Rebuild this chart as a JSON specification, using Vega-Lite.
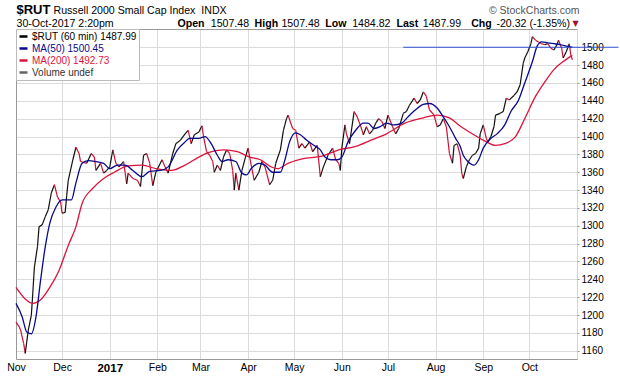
{
  "$schema": "https://vega.github.io/schema/vega-lite/v6.json",
  "width": 561,
  "height": 330,
  "autosize": "none",
  "padding": {"left": 16, "top": 29, "right": 43, "bottom": 17},
  "background": "#ffffff",
  "config": {"view": {"stroke": null}, "font": "Liberation Sans"},
  "datasets": {
    "price": [
      {"date": "2016-11-01", "close": 1192}, {"date": "2016-11-03", "close": 1187}, {"date": "2016-11-04", "close": 1183},
      {"date": "2016-11-06", "close": 1168}, {"date": "2016-11-07", "close": 1157}, {"date": "2016-11-09", "close": 1183},
      {"date": "2016-11-11", "close": 1200}, {"date": "2016-11-13", "close": 1254}, {"date": "2016-11-15", "close": 1277},
      {"date": "2016-11-16", "close": 1299}, {"date": "2016-11-18", "close": 1301}, {"date": "2016-11-20", "close": 1310},
      {"date": "2016-11-22", "close": 1318}, {"date": "2016-11-24", "close": 1337}, {"date": "2016-11-26", "close": 1346},
      {"date": "2016-11-28", "close": 1332}, {"date": "2016-11-30", "close": 1327}, {"date": "2016-12-01", "close": 1314},
      {"date": "2016-12-03", "close": 1315}, {"date": "2016-12-04", "close": 1334}, {"date": "2016-12-05", "close": 1351},
      {"date": "2016-12-08", "close": 1374}, {"date": "2016-12-10", "close": 1388}, {"date": "2016-12-12", "close": 1381},
      {"date": "2016-12-13", "close": 1372}, {"date": "2016-12-17", "close": 1370}, {"date": "2016-12-20", "close": 1381},
      {"date": "2016-12-22", "close": 1377}, {"date": "2016-12-23", "close": 1362}, {"date": "2016-12-26", "close": 1370},
      {"date": "2016-12-28", "close": 1359}, {"date": "2016-12-30", "close": 1362}, {"date": "2017-01-01", "close": 1366},
      {"date": "2017-01-03", "close": 1385}, {"date": "2017-01-05", "close": 1370}, {"date": "2017-01-07", "close": 1366},
      {"date": "2017-01-10", "close": 1372}, {"date": "2017-01-12", "close": 1347}, {"date": "2017-01-13", "close": 1359},
      {"date": "2017-01-16", "close": 1353}, {"date": "2017-01-19", "close": 1351}, {"date": "2017-01-21", "close": 1344},
      {"date": "2017-01-23", "close": 1379}, {"date": "2017-01-25", "close": 1381}, {"date": "2017-01-27", "close": 1370},
      {"date": "2017-01-29", "close": 1345}, {"date": "2017-01-31", "close": 1360}, {"date": "2017-02-04", "close": 1374},
      {"date": "2017-02-06", "close": 1366}, {"date": "2017-02-08", "close": 1359}, {"date": "2017-02-11", "close": 1381},
      {"date": "2017-02-13", "close": 1392}, {"date": "2017-02-16", "close": 1396}, {"date": "2017-02-19", "close": 1403},
      {"date": "2017-02-21", "close": 1407}, {"date": "2017-02-23", "close": 1392}, {"date": "2017-02-25", "close": 1402},
      {"date": "2017-02-28", "close": 1405}, {"date": "2017-03-02", "close": 1412}, {"date": "2017-03-03", "close": 1400},
      {"date": "2017-03-05", "close": 1383}, {"date": "2017-03-07", "close": 1379}, {"date": "2017-03-09", "close": 1372},
      {"date": "2017-03-10", "close": 1360}, {"date": "2017-03-12", "close": 1368}, {"date": "2017-03-14", "close": 1362},
      {"date": "2017-03-16", "close": 1377}, {"date": "2017-03-18", "close": 1385}, {"date": "2017-03-20", "close": 1381},
      {"date": "2017-03-22", "close": 1362}, {"date": "2017-03-23", "close": 1340}, {"date": "2017-03-24", "close": 1359},
      {"date": "2017-03-26", "close": 1340}, {"date": "2017-03-28", "close": 1362}, {"date": "2017-03-30", "close": 1375},
      {"date": "2017-04-01", "close": 1387}, {"date": "2017-04-03", "close": 1368}, {"date": "2017-04-05", "close": 1351},
      {"date": "2017-04-08", "close": 1360}, {"date": "2017-04-10", "close": 1372}, {"date": "2017-04-12", "close": 1366},
      {"date": "2017-04-15", "close": 1346}, {"date": "2017-04-17", "close": 1351}, {"date": "2017-04-19", "close": 1370},
      {"date": "2017-04-22", "close": 1385}, {"date": "2017-04-24", "close": 1407}, {"date": "2017-04-26", "close": 1420},
      {"date": "2017-04-27", "close": 1424}, {"date": "2017-04-30", "close": 1409}, {"date": "2017-05-02", "close": 1407},
      {"date": "2017-05-04", "close": 1387}, {"date": "2017-05-06", "close": 1392}, {"date": "2017-05-08", "close": 1387},
      {"date": "2017-05-11", "close": 1394}, {"date": "2017-05-13", "close": 1383}, {"date": "2017-05-16", "close": 1390},
      {"date": "2017-05-18", "close": 1355}, {"date": "2017-05-20", "close": 1366}, {"date": "2017-05-23", "close": 1379},
      {"date": "2017-05-26", "close": 1387}, {"date": "2017-05-28", "close": 1374}, {"date": "2017-05-30", "close": 1370},
      {"date": "2017-05-31", "close": 1362}, {"date": "2017-06-01", "close": 1387}, {"date": "2017-06-03", "close": 1413},
      {"date": "2017-06-04", "close": 1403}, {"date": "2017-06-06", "close": 1392}, {"date": "2017-06-09", "close": 1428},
      {"date": "2017-06-11", "close": 1422}, {"date": "2017-06-13", "close": 1413}, {"date": "2017-06-15", "close": 1402},
      {"date": "2017-06-17", "close": 1411}, {"date": "2017-06-19", "close": 1403}, {"date": "2017-06-21", "close": 1407},
      {"date": "2017-06-23", "close": 1415}, {"date": "2017-06-25", "close": 1420}, {"date": "2017-06-27", "close": 1417},
      {"date": "2017-06-29", "close": 1409}, {"date": "2017-07-01", "close": 1424}, {"date": "2017-07-04", "close": 1411},
      {"date": "2017-07-06", "close": 1403}, {"date": "2017-07-08", "close": 1409}, {"date": "2017-07-11", "close": 1426},
      {"date": "2017-07-13", "close": 1428}, {"date": "2017-07-15", "close": 1435}, {"date": "2017-07-18", "close": 1443},
      {"date": "2017-07-20", "close": 1437}, {"date": "2017-07-22", "close": 1441}, {"date": "2017-07-24", "close": 1450},
      {"date": "2017-07-26", "close": 1445}, {"date": "2017-07-28", "close": 1430}, {"date": "2017-07-31", "close": 1424},
      {"date": "2017-08-02", "close": 1411}, {"date": "2017-08-04", "close": 1413}, {"date": "2017-08-06", "close": 1420},
      {"date": "2017-08-08", "close": 1411}, {"date": "2017-08-09", "close": 1396}, {"date": "2017-08-10", "close": 1381},
      {"date": "2017-08-12", "close": 1370}, {"date": "2017-08-13", "close": 1390}, {"date": "2017-08-15", "close": 1392},
      {"date": "2017-08-17", "close": 1379}, {"date": "2017-08-18", "close": 1359}, {"date": "2017-08-19", "close": 1353},
      {"date": "2017-08-21", "close": 1366}, {"date": "2017-08-23", "close": 1374}, {"date": "2017-08-25", "close": 1379},
      {"date": "2017-08-27", "close": 1381}, {"date": "2017-08-29", "close": 1387}, {"date": "2017-08-30", "close": 1403},
      {"date": "2017-09-01", "close": 1413}, {"date": "2017-09-03", "close": 1398}, {"date": "2017-09-04", "close": 1394},
      {"date": "2017-09-06", "close": 1400}, {"date": "2017-09-08", "close": 1411}, {"date": "2017-09-09", "close": 1424},
      {"date": "2017-09-12", "close": 1426}, {"date": "2017-09-14", "close": 1428}, {"date": "2017-09-16", "close": 1443},
      {"date": "2017-09-18", "close": 1441}, {"date": "2017-09-21", "close": 1446}, {"date": "2017-09-23", "close": 1450},
      {"date": "2017-09-25", "close": 1458}, {"date": "2017-09-27", "close": 1482}, {"date": "2017-09-28", "close": 1488},
      {"date": "2017-09-30", "close": 1495}, {"date": "2017-10-02", "close": 1504}, {"date": "2017-10-03", "close": 1512},
      {"date": "2017-10-05", "close": 1508}, {"date": "2017-10-07", "close": 1506}, {"date": "2017-10-09", "close": 1504},
      {"date": "2017-10-11", "close": 1503}, {"date": "2017-10-13", "close": 1504}, {"date": "2017-10-15", "close": 1499},
      {"date": "2017-10-17", "close": 1497}, {"date": "2017-10-19", "close": 1503}, {"date": "2017-10-20", "close": 1508},
      {"date": "2017-10-22", "close": 1499}, {"date": "2017-10-23", "close": 1488}, {"date": "2017-10-25", "close": 1495},
      {"date": "2017-10-27", "close": 1504}, {"date": "2017-10-28", "close": 1491}, {"date": "2017-10-29", "close": 1486}
    ],
    "ma": [
      {"date": "2016-11-01", "series": "MA(200) 1492.73", "value": 1231}, {"date": "2016-11-07", "series": "MA(200) 1492.73", "value": 1218},
      {"date": "2016-11-12", "series": "MA(200) 1492.73", "value": 1213}, {"date": "2016-11-17", "series": "MA(200) 1492.73", "value": 1217},
      {"date": "2016-11-23", "series": "MA(200) 1492.73", "value": 1231}, {"date": "2016-11-29", "series": "MA(200) 1492.73", "value": 1250},
      {"date": "2016-12-05", "series": "MA(200) 1492.73", "value": 1278}, {"date": "2016-12-10", "series": "MA(200) 1492.73", "value": 1299},
      {"date": "2016-12-14", "series": "MA(200) 1492.73", "value": 1325}, {"date": "2016-12-21", "series": "MA(200) 1492.73", "value": 1342},
      {"date": "2016-12-28", "series": "MA(200) 1492.73", "value": 1353}, {"date": "2017-01-04", "series": "MA(200) 1492.73", "value": 1360},
      {"date": "2017-01-13", "series": "MA(200) 1492.73", "value": 1367}, {"date": "2017-01-22", "series": "MA(200) 1492.73", "value": 1368},
      {"date": "2017-01-31", "series": "MA(200) 1492.73", "value": 1364}, {"date": "2017-02-10", "series": "MA(200) 1492.73", "value": 1362},
      {"date": "2017-02-19", "series": "MA(200) 1492.73", "value": 1368}, {"date": "2017-02-28", "series": "MA(200) 1492.73", "value": 1377},
      {"date": "2017-03-06", "series": "MA(200) 1492.73", "value": 1382}, {"date": "2017-03-16", "series": "MA(200) 1492.73", "value": 1385},
      {"date": "2017-03-25", "series": "MA(200) 1492.73", "value": 1383}, {"date": "2017-04-02", "series": "MA(200) 1492.73", "value": 1377},
      {"date": "2017-04-09", "series": "MA(200) 1492.73", "value": 1374}, {"date": "2017-04-16", "series": "MA(200) 1492.73", "value": 1366},
      {"date": "2017-04-20", "series": "MA(200) 1492.73", "value": 1364}, {"date": "2017-04-27", "series": "MA(200) 1492.73", "value": 1370},
      {"date": "2017-05-06", "series": "MA(200) 1492.73", "value": 1375}, {"date": "2017-05-19", "series": "MA(200) 1492.73", "value": 1378},
      {"date": "2017-05-30", "series": "MA(200) 1492.73", "value": 1385}, {"date": "2017-06-10", "series": "MA(200) 1492.73", "value": 1389},
      {"date": "2017-06-20", "series": "MA(200) 1492.73", "value": 1396}, {"date": "2017-06-30", "series": "MA(200) 1492.73", "value": 1403},
      {"date": "2017-07-12", "series": "MA(200) 1492.73", "value": 1415}, {"date": "2017-07-24", "series": "MA(200) 1492.73", "value": 1421},
      {"date": "2017-08-02", "series": "MA(200) 1492.73", "value": 1424}, {"date": "2017-08-10", "series": "MA(200) 1492.73", "value": 1421},
      {"date": "2017-08-16", "series": "MA(200) 1492.73", "value": 1413}, {"date": "2017-08-24", "series": "MA(200) 1492.73", "value": 1404},
      {"date": "2017-09-01", "series": "MA(200) 1492.73", "value": 1396}, {"date": "2017-09-09", "series": "MA(200) 1492.73", "value": 1390},
      {"date": "2017-09-15", "series": "MA(200) 1492.73", "value": 1392}, {"date": "2017-09-22", "series": "MA(200) 1492.73", "value": 1400},
      {"date": "2017-09-28", "series": "MA(200) 1492.73", "value": 1420}, {"date": "2017-10-05", "series": "MA(200) 1492.73", "value": 1445},
      {"date": "2017-10-11", "series": "MA(200) 1492.73", "value": 1461}, {"date": "2017-10-17", "series": "MA(200) 1492.73", "value": 1475},
      {"date": "2017-10-23", "series": "MA(200) 1492.73", "value": 1484}, {"date": "2017-10-29", "series": "MA(200) 1492.73", "value": 1491},
      {"date": "2016-11-01", "series": "MA(50) 1500.45", "value": 1213}, {"date": "2016-11-05", "series": "MA(50) 1500.45", "value": 1198},
      {"date": "2016-11-08", "series": "MA(50) 1500.45", "value": 1181}, {"date": "2016-11-11", "series": "MA(50) 1500.45", "value": 1179},
      {"date": "2016-11-14", "series": "MA(50) 1500.45", "value": 1198}, {"date": "2016-11-17", "series": "MA(50) 1500.45", "value": 1239},
      {"date": "2016-11-20", "series": "MA(50) 1500.45", "value": 1276}, {"date": "2016-11-23", "series": "MA(50) 1500.45", "value": 1303},
      {"date": "2016-11-27", "series": "MA(50) 1500.45", "value": 1321}, {"date": "2016-12-01", "series": "MA(50) 1500.45", "value": 1329},
      {"date": "2016-12-07", "series": "MA(50) 1500.45", "value": 1329}, {"date": "2016-12-10", "series": "MA(50) 1500.45", "value": 1348},
      {"date": "2016-12-14", "series": "MA(50) 1500.45", "value": 1370}, {"date": "2016-12-18", "series": "MA(50) 1500.45", "value": 1373},
      {"date": "2016-12-23", "series": "MA(50) 1500.45", "value": 1372}, {"date": "2016-12-28", "series": "MA(50) 1500.45", "value": 1370},
      {"date": "2017-01-01", "series": "MA(50) 1500.45", "value": 1364}, {"date": "2017-01-06", "series": "MA(50) 1500.45", "value": 1368},
      {"date": "2017-01-11", "series": "MA(50) 1500.45", "value": 1368}, {"date": "2017-01-16", "series": "MA(50) 1500.45", "value": 1362},
      {"date": "2017-01-22", "series": "MA(50) 1500.45", "value": 1355}, {"date": "2017-01-27", "series": "MA(50) 1500.45", "value": 1361},
      {"date": "2017-02-03", "series": "MA(50) 1500.45", "value": 1362}, {"date": "2017-02-08", "series": "MA(50) 1500.45", "value": 1366},
      {"date": "2017-02-14", "series": "MA(50) 1500.45", "value": 1385}, {"date": "2017-02-19", "series": "MA(50) 1500.45", "value": 1394},
      {"date": "2017-02-22", "series": "MA(50) 1500.45", "value": 1398}, {"date": "2017-02-28", "series": "MA(50) 1500.45", "value": 1398},
      {"date": "2017-03-04", "series": "MA(50) 1500.45", "value": 1400}, {"date": "2017-03-08", "series": "MA(50) 1500.45", "value": 1392},
      {"date": "2017-03-12", "series": "MA(50) 1500.45", "value": 1379}, {"date": "2017-03-15", "series": "MA(50) 1500.45", "value": 1372},
      {"date": "2017-03-19", "series": "MA(50) 1500.45", "value": 1374}, {"date": "2017-03-24", "series": "MA(50) 1500.45", "value": 1372},
      {"date": "2017-03-28", "series": "MA(50) 1500.45", "value": 1359}, {"date": "2017-03-31", "series": "MA(50) 1500.45", "value": 1357},
      {"date": "2017-04-03", "series": "MA(50) 1500.45", "value": 1364}, {"date": "2017-04-08", "series": "MA(50) 1500.45", "value": 1370},
      {"date": "2017-04-12", "series": "MA(50) 1500.45", "value": 1368}, {"date": "2017-04-17", "series": "MA(50) 1500.45", "value": 1360},
      {"date": "2017-04-22", "series": "MA(50) 1500.45", "value": 1360}, {"date": "2017-04-25", "series": "MA(50) 1500.45", "value": 1374},
      {"date": "2017-04-28", "series": "MA(50) 1500.45", "value": 1394}, {"date": "2017-05-02", "series": "MA(50) 1500.45", "value": 1404},
      {"date": "2017-05-05", "series": "MA(50) 1500.45", "value": 1402}, {"date": "2017-05-09", "series": "MA(50) 1500.45", "value": 1396},
      {"date": "2017-05-14", "series": "MA(50) 1500.45", "value": 1390}, {"date": "2017-05-18", "series": "MA(50) 1500.45", "value": 1385},
      {"date": "2017-05-21", "series": "MA(50) 1500.45", "value": 1377}, {"date": "2017-05-25", "series": "MA(50) 1500.45", "value": 1374},
      {"date": "2017-05-29", "series": "MA(50) 1500.45", "value": 1374}, {"date": "2017-06-01", "series": "MA(50) 1500.45", "value": 1377},
      {"date": "2017-06-05", "series": "MA(50) 1500.45", "value": 1394}, {"date": "2017-06-10", "series": "MA(50) 1500.45", "value": 1407},
      {"date": "2017-06-15", "series": "MA(50) 1500.45", "value": 1415}, {"date": "2017-06-18", "series": "MA(50) 1500.45", "value": 1415},
      {"date": "2017-06-22", "series": "MA(50) 1500.45", "value": 1409}, {"date": "2017-06-26", "series": "MA(50) 1500.45", "value": 1411},
      {"date": "2017-06-30", "series": "MA(50) 1500.45", "value": 1415}, {"date": "2017-07-05", "series": "MA(50) 1500.45", "value": 1413},
      {"date": "2017-07-10", "series": "MA(50) 1500.45", "value": 1415}, {"date": "2017-07-14", "series": "MA(50) 1500.45", "value": 1422},
      {"date": "2017-07-19", "series": "MA(50) 1500.45", "value": 1430}, {"date": "2017-07-24", "series": "MA(50) 1500.45", "value": 1436},
      {"date": "2017-07-28", "series": "MA(50) 1500.45", "value": 1437}, {"date": "2017-08-02", "series": "MA(50) 1500.45", "value": 1432},
      {"date": "2017-08-06", "series": "MA(50) 1500.45", "value": 1422}, {"date": "2017-08-10", "series": "MA(50) 1500.45", "value": 1411},
      {"date": "2017-08-14", "series": "MA(50) 1500.45", "value": 1398}, {"date": "2017-08-17", "series": "MA(50) 1500.45", "value": 1389},
      {"date": "2017-08-19", "series": "MA(50) 1500.45", "value": 1379}, {"date": "2017-08-22", "series": "MA(50) 1500.45", "value": 1372},
      {"date": "2017-08-26", "series": "MA(50) 1500.45", "value": 1368}, {"date": "2017-08-29", "series": "MA(50) 1500.45", "value": 1374},
      {"date": "2017-09-01", "series": "MA(50) 1500.45", "value": 1387}, {"date": "2017-09-06", "series": "MA(50) 1500.45", "value": 1398},
      {"date": "2017-09-10", "series": "MA(50) 1500.45", "value": 1403}, {"date": "2017-09-15", "series": "MA(50) 1500.45", "value": 1413},
      {"date": "2017-09-19", "series": "MA(50) 1500.45", "value": 1428}, {"date": "2017-09-24", "series": "MA(50) 1500.45", "value": 1441},
      {"date": "2017-09-28", "series": "MA(50) 1500.45", "value": 1460}, {"date": "2017-10-03", "series": "MA(50) 1500.45", "value": 1484},
      {"date": "2017-10-06", "series": "MA(50) 1500.45", "value": 1501}, {"date": "2017-10-09", "series": "MA(50) 1500.45", "value": 1506},
      {"date": "2017-10-13", "series": "MA(50) 1500.45", "value": 1505}, {"date": "2017-10-17", "series": "MA(50) 1500.45", "value": 1504},
      {"date": "2017-10-21", "series": "MA(50) 1500.45", "value": 1503}, {"date": "2017-10-26", "series": "MA(50) 1500.45", "value": 1501},
      {"date": "2017-10-29", "series": "MA(50) 1500.45", "value": 1500}
    ],
    "hline": [{"start": "2017-07-11", "end": "2017-11-28", "level": 1500}]
  },
  "resolve": {"axis": {"x": "independent", "y": "independent"}},
  "layer": [
    {
      "data": {"name": "price", "format": {"parse": {"date": "date"}}},
      "transform": [
        {"window": [{"op": "lag", "field": "date", "as": "pdate"}, {"op": "lag", "field": "close", "as": "pclose"}], "sort": [{"field": "date", "order": "ascending"}]},
        {"filter": "datum.pdate != null"}
      ],
      "mark": {"type": "rule", "strokeWidth": 1.2},
      "encoding": {
        "x": {
          "field": "pdate", "type": "temporal",
          "scale": {"type": "utc", "nice": false, "domain": [1477958400000, 1509494400000]},
          "axis": {
            "orient": "bottom",
            "values": [1477958400000, 1480550400000, 1483228800000, 1485907200000, 1488326400000, 1491004800000, 1493596800000, 1496275200000, 1498867200000, 1501545600000, 1504224000000, 1506816000000],
            "labelExpr": "utcmonth(datum.value) === 0 ? '2017' : utcFormat(datum.value, '%b')",
            "labelFontWeight": {"condition": {"test": "utcmonth(datum.value) === 0", "value": "bold"}, "value": "normal"},
            "labelFontSize": {"condition": {"test": "utcmonth(datum.value) === 0", "value": 11.5}, "value": 10.5},
            "labelFont": "Liberation Sans", "labelColor": "#000000", "labelPadding": 3,
            "labelFlush": false, "labelOverlap": false,
            "ticks": false, "domain": true, "domainColor": "#999999",
            "grid": true, "gridColor": "#dcdcdc",
            "title": "Open\u00a0\u00a0\u00a0\u00a0\u00a0\u00a0\u00a0\u00a0\u00a0\u00a0\u00a0\u00a0\u00a0\u00a0\u00a0\u00a0\u00a0High\u00a0\u00a0\u00a0\u00a0\u00a0\u00a0\u00a0\u00a0\u00a0\u00a0\u00a0\u00a0\u00a0\u00a0\u00a0\u00a0Low\u00a0\u00a0\u00a0\u00a0\u00a0\u00a0\u00a0\u00a0\u00a0\u00a0\u00a0\u00a0\u00a0\u00a0\u00a0\u00a0\u00a0Last\u00a0\u00a0\u00a0\u00a0\u00a0\u00a0\u00a0\u00a0\u00a0\u00a0\u00a0\u00a0\u00a0\u00a0\u00a0\u00a0\u00a0\u00a0Chg",
            "titleX": 161, "titleY": -332.5, "titleAngle": 0, "titleAlign": "left", "titleBaseline": "alphabetic",
            "titleFont": "Liberation Sans", "titleFontSize": 10.6, "titleFontWeight": "bold", "titleColor": "#000000", "titleLimit": 2000
          }
        },
        "x2": {"field": "date"},
        "y": {
          "field": "pclose", "type": "quantitative",
          "scale": {"domain": [1150.7, 1520.5], "nice": false, "zero": false},
          "axis": {
            "orient": "right", "format": "d",
            "values": [1160, 1180, 1200, 1220, 1240, 1260, 1280, 1300, 1320, 1340, 1360, 1380, 1400, 1420, 1440, 1460, 1480, 1500],
            "labelFont": "Liberation Sans", "labelFontSize": 10, "labelColor": "#000000", "labelPadding": 2,
            "labelFlush": false, "labelOverlap": false,
            "ticks": true, "tickSize": 2, "tickColor": "#999999",
            "domain": true, "domainColor": "#aaaaaa", "domainDash": [1, 1],
            "grid": true, "gridColor": "#dcdcdc",
            "title": "\u00a9 StockCharts.com",
            "titleX": 2, "titleY": -16, "titleAngle": 0, "titleAlign": "right", "titleBaseline": "alphabetic",
            "titleFont": "Liberation Sans", "titleFontSize": 10.5, "titleFontWeight": "normal", "titleColor": "#555555", "titleLimit": 2000
          }
        },
        "y2": {"field": "close"},
        "stroke": {"condition": {"test": "datum.close >= datum.pclose", "value": "#111111"}, "value": "#cc1033"}
      }
    },
    {
      "data": {"name": "ma"},
      "mark": {"type": "line", "strokeWidth": 1.3, "interpolate": "monotone"},
      "encoding": {
        "x": {
          "field": "date", "type": "temporal",
          "scale": {"type": "utc", "nice": false, "domain": [1477958400000, 1509494400000]},
          "axis": {
            "orient": "top", "labels": false, "ticks": false, "grid": false,
            "domain": true, "domainColor": "#999999",
            "title": "$RUT",
            "titleX": 0, "titleY": -16, "titleAngle": 0, "titleAlign": "left", "titleBaseline": "alphabetic",
            "titleFont": "Liberation Sans", "titleFontSize": 13, "titleFontWeight": "bold", "titleColor": "#000000", "titleLimit": 2000
          }
        },
        "y": {
          "field": "value", "type": "quantitative",
          "scale": {"domain": [1150.7, 1520.5], "nice": false, "zero": false},
          "axis": {
            "orient": "left", "labels": false, "ticks": false, "grid": false,
            "domain": true, "domainColor": "#999999",
            "title": "Russell 2000 Small Cap Index\u00a0\u00a0INDX",
            "titleX": 37, "titleY": -16, "titleAngle": 0, "titleAlign": "left", "titleBaseline": "alphabetic",
            "titleFont": "Liberation Sans", "titleFontSize": 10.6, "titleFontWeight": "normal", "titleColor": "#000000", "titleLimit": 2000
          }
        },
        "color": {
          "field": "series", "type": "nominal",
          "scale": {"domain": ["$RUT (60 min) 1487.99", "MA(50) 1500.45", "MA(200) 1492.73", "Volume undef"], "range": ["#000000", "#0a0a8c", "#dc143c", "#666666"]},
          "legend": {
            "orient": "top-left", "offset": 0, "title": null, "padding": 2,
            "fillColor": "#ffffff", "strokeColor": "#bbbbbb", "cornerRadius": 0,
            "symbolType": "stroke", "symbolSize": 64, "symbolStrokeWidth": 2.5,
            "labelFont": "Liberation Sans", "labelFontSize": 10, "labelOffset": 3, "rowPadding": 1,
            "labelColor": {"expr": "datum.value === 'MA(50) 1500.45' ? '#0a0a8c' : datum.value === 'MA(200) 1492.73' ? '#dc143c' : datum.value === 'Volume undef' ? '#333333' : '#000000'"}
          }
        }
      }
    },
    {
      "data": {"name": "hline"},
      "mark": {"type": "rule", "strokeWidth": 1.1, "color": "#2e4fd0"},
      "encoding": {
        "x": {
          "field": "start", "type": "temporal",
          "scale": {"type": "utc", "nice": false, "domain": [1477958400000, 1509494400000]},
          "axis": {
            "orient": "top", "labels": false, "ticks": false, "grid": false, "domain": false,
            "title": "30-Oct-2017 2:20pm\u00a0\u00a0\u00a0\u00a0\u00a0\u00a0\u00a0\u00a0\u00a0\u00a0\u00a0\u00a0\u00a0\u00a0\u00a0\u00a0\u00a0\u00a0\u00a0\u00a0\u00a0\u00a0\u00a0\u00a0\u00a0\u00a0\u00a0\u00a0\u00a0\u00a0\u00a0\u00a0\u00a01507.48\u00a0\u00a0\u00a0\u00a0\u00a0\u00a0\u00a0\u00a0\u00a0\u00a0\u00a01507.48\u00a0\u00a0\u00a0\u00a0\u00a0\u00a0\u00a0\u00a0\u00a0\u00a0\u00a01484.82\u00a0\u00a0\u00a0\u00a0\u00a0\u00a0\u00a0\u00a0\u00a0\u00a0\u00a01487.99\u00a0\u00a0\u00a0\u00a0\u00a0\u00a0\u00a0\u00a0\u00a0\u00a0\u00a0\u00a0-20.32 (-1.35%)",
            "titleX": 0, "titleY": -2.5, "titleAngle": 0, "titleAlign": "left", "titleBaseline": "alphabetic",
            "titleFont": "Liberation Sans", "titleFontSize": 10.6, "titleFontWeight": "normal", "titleColor": "#000000", "titleLimit": 2000
          }
        },
        "x2": {"field": "end"},
        "y": {
          "field": "level", "type": "quantitative",
          "scale": {"domain": [1150.7, 1520.5], "nice": false, "zero": false},
          "axis": {
            "orient": "left", "labels": false, "ticks": false, "grid": false, "domain": false,
            "title": "\u25bc",
            "titleX": 556, "titleY": -3.5, "titleAngle": 0, "titleAlign": "left", "titleBaseline": "alphabetic",
            "titleFont": "DejaVu Sans", "titleFontSize": 8, "titleFontWeight": "normal", "titleColor": "#a0102a", "titleLimit": 2000
          }
        }
      }
    }
  ]
}
